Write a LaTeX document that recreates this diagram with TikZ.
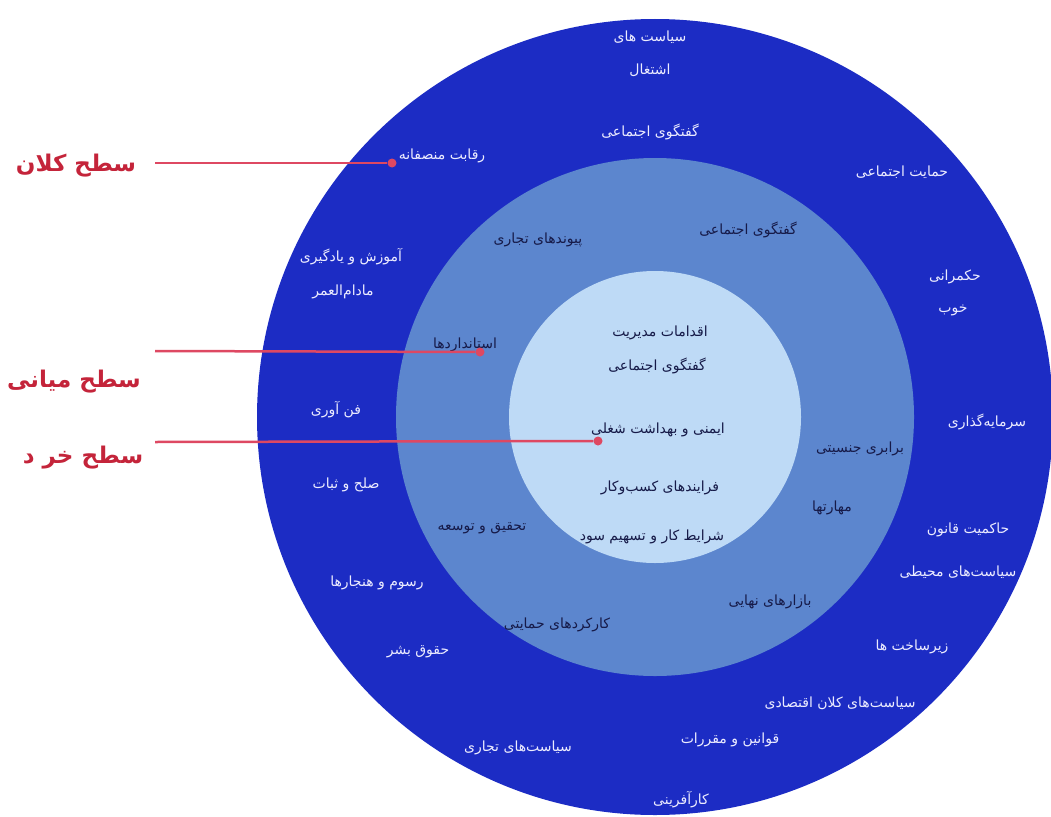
\documentclass[tikz,border=0pt]{standalone}
\usepackage{fontspec}
\usepackage{xcolor}
\newfontfamily\arabicfont[Script=Arabic]{DejaVu Sans}
\TeXXeTstate=1
\usetikzlibrary{positioning}
\definecolor{outerblue}{RGB}{28,44,196}
\definecolor{midblue}{RGB}{92,134,206}
\definecolor{innerblue}{RGB}{190,218,246}
\definecolor{linered}{RGB}{222,72,98}
\definecolor{labelred}{RGB}{196,36,58}
\definecolor{navy}{RGB}{22,26,72}
\definecolor{outtxt}{RGB}{236,236,255}
\newcommand{\rtl}[1]{\beginR #1\endR}
\tikzset{%
	outtext/.style  = {text=outtxt, font=\arabicfont\fontsize{14}{16}\selectfont, inner sep=1pt},
	intext/.style   = {text=navy, font=\arabicfont\fontsize{14}{16}\selectfont, inner sep=1pt},
	level/.style    = {text=labelred, font=\arabicfont\bfseries\fontsize{23}{26}\selectfont},
	pointer/.style  = {draw=linered, line width=2.5pt},
	dot/.style      = {circle, fill=linered, inner sep=0pt, minimum size=9pt},
}

\begin{document}
\begin{tikzpicture}[x=1pt,y=-1pt]
	\useasboundingbox (0,0) rectangle (1051,816);
	\coordinate (c) at (655,417);
	\fill[outerblue] (c) circle [radius=398pt];
	\fill[midblue] (c) circle [radius=259pt];
	\fill[innerblue] (c) circle [radius=146pt];
	
	% outer ring
	\node [outtext] (siasat) at (650,37) {\rtl{سیاست های}};
	\node [outtext] (eshteghal) at (650,70) {\rtl{اشتغال}};
	\node [outtext] (goftoout) at (650,132) {\rtl{گفتگوی اجتماعی}};
	\node [outtext] (reghabat) at (442,156) {\rtl{رقابت منصفانه}};
	\node [outtext] (hemayat) at (902,172) {\rtl{حمایت اجتماعی}};
	\node [outtext] (amuzesh) at (351,257) {\rtl{آموزش و یادگیری}};
	\node [outtext] (madam) at (343,292) {\rtl{مادام‌العمر}};
	\node [outtext] (hokm) at (955,277) {\rtl{حکمرانی}};
	\node [outtext] (khub) at (953,310) {\rtl{خوب}};
	\node [outtext] (fanavari) at (336,410) {\rtl{فن آوری}};
	\node [outtext] (sarmaye) at (987,422) {\rtl{سرمایه‌گذاری}};
	\node [outtext] (solh) at (346,485) {\rtl{صلح و ثبات}};
	\node [outtext] (hakemiat) at (968,530) {\rtl{حاکمیت قانون}};
	\node [outtext] (mohiti) at (958,572) {\rtl{سیاست‌های محیطی}};
	\node [outtext] (rosum) at (377,583) {\rtl{رسوم و هنجارها}};
	\node [outtext] (hoghugh) at (418,652) {\rtl{حقوق بشر}};
	\node [outtext] (zirsakht) at (912,647) {\rtl{زیرساخت ها}};
	\node [outtext] (eghtesadi) at (840,703) {\rtl{سیاست‌های کلان اقتصادی}};
	\node [outtext] (ghavanin) at (730,740) {\rtl{قوانین و مقررات}};
	\node [outtext] (tejari) at (518,748) {\rtl{سیاست‌های تجاری}};
	\node [outtext] (karafarini) at (681,800) {\rtl{کارآفرینی}};
	
	% middle ring
	\node [intext] (peyvand) at (538,240) {\rtl{پیوندهای تجاری}};
	\node [intext] (goftomid) at (748,230) {\rtl{گفتگوی اجتماعی}};
	\node [intext] (standard) at (465,345) {\rtl{استانداردها}};
	\node [intext] (barabari) at (860,449) {\rtl{برابری جنسیتی}};
	\node [intext] (maharat) at (832,508) {\rtl{مهارتها}};
	\node [intext] (tahghigh) at (482,528) {\rtl{تحقیق و توسعه}};
	\node [intext] (bazar) at (770,602) {\rtl{بازارهای نهایی}};
	\node [intext] (karkard) at (557,625) {\rtl{کارکردهای حمایتی}};
	
	% inner circle
	\node [intext] (eghdamat) at (660,333) {\rtl{اقدامات مدیریت}};
	\node [intext] (goftoin) at (657,366) {\rtl{گفتگوی اجتماعی}};
	\node [intext] (imeni) at (658,430) {\rtl{ایمنی و بهداشت شغلی}};
	\node [intext] (farayand) at (660,488) {\rtl{فرایندهای کسب‌وکار}};
	\node [intext] (sharayet) at (652,537) {\rtl{شرایط کار و تسهیم سود}};
	
	% levels
	\node [level] (kalan) at (76,166) {\rtl{سطح کلان}};
	\node [level] (miani) at (74,382) {\rtl{سطح میانی}};
	\node [level] (khord) at (83,458) {\rtl{سطح خر د}};
	\coordinate (kalanin) at (155,163);
	\coordinate (mianiin) at (155,351);
	\coordinate (khordin) at (155,442);
	\node [dot] (kalandot) at (392,163) {};
	\node [dot] (mianidot) at (480,352) {};
	\node [dot] (khorddot) at (598,441) {};
	\draw [pointer] (kalanin) -- (kalandot);
	\draw [pointer] (mianiin) -- (mianidot);
	\draw [pointer] (khordin) -- (khorddot);
\end{tikzpicture}
\end{document}
